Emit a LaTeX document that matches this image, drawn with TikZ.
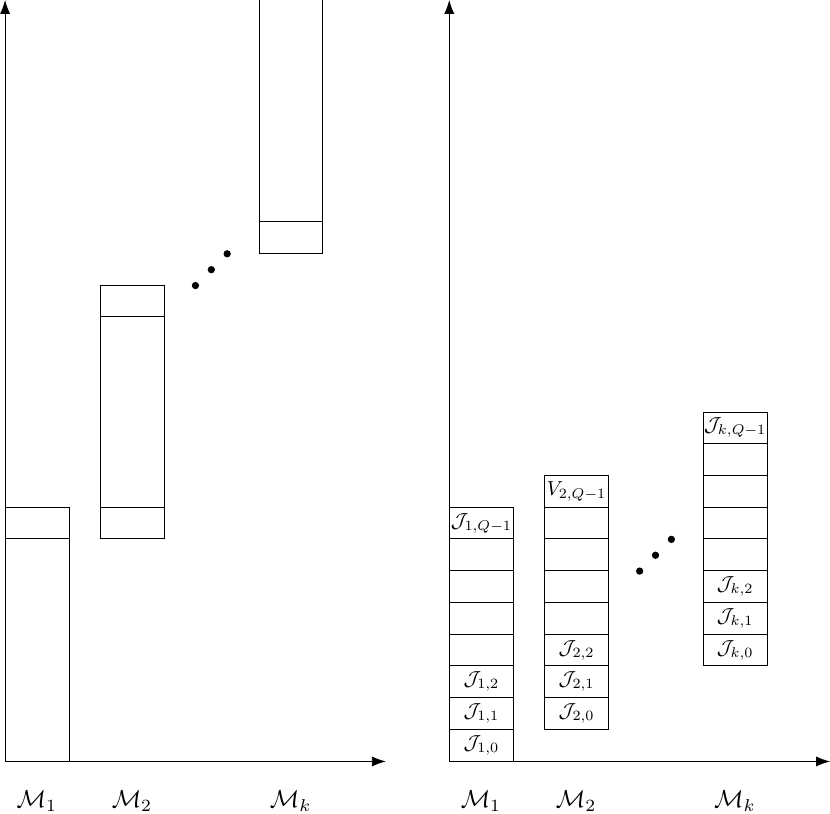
\documentclass[tikz,border=0pt]{standalone}
\usepackage{graphicx}
\usetikzlibrary{arrows.meta}
\newcommand{\celltxt}[1]{\makebox[0pt]{\scalebox{0.91}{$#1$}}}
\begin{document}
\begin{tikzpicture}[
  cellbox/.style={draw, minimum width=1cm, minimum height=0.5cm, inner sep=0pt, anchor=south west},
  tallbox/.style={draw, minimum width=1cm, minimum height=3.5cm, inner sep=0pt, anchor=south west},
  axis/.style={-{Latex[length=2.2mm,width=1.6mm]}},
  dot/.style={circle, fill, inner sep=0pt, minimum size=1.15mm},
  mlabel/.style={inner sep=0pt, scale=1.1, transform shape}
]
\useasboundingbox (-0.08,-0.82) rectangle (13.0,12.0);

% ---------- left panel ----------
\coordinate (LO) at (0,0);
\coordinate (LY) at (0,12);
\coordinate (LX) at (6,0);
\draw[axis] (LO) -- (LY);
\draw[axis] (LO) -- (LX);

% M1: tall part bottom, single cell top
\node[tallbox] (l1a) at (0,0) {};
\node[cellbox] (l1b) at (0,3.5) {};
% M2: cell, tall, cell
\node[cellbox] (l2a) at (1.5,3.5) {};
\node[tallbox, minimum height=3cm] (l2b) at (1.5,4) {};
\node[cellbox] (l2c) at (1.5,7) {};
% Mk: cell, tall
\node[cellbox] (lka) at (4,8) {};
\node[tallbox] (lkb) at (4,8.5) {};

\node[dot] (ld1) at (3.0,7.5) {};
\node[dot] (ld2) at (3.25,7.75) {};
\node[dot] (ld3) at (3.5,8.0) {};

\node[mlabel] (lm1) at (0.5,-0.62) {$\mathcal{M}_1$};
\node[mlabel] (lm2) at (2.0,-0.62) {$\mathcal{M}_2$};
\node[mlabel] (lmk) at (4.5,-0.62) {$\mathcal{M}_k$};

% ---------- right panel ----------
\coordinate (RO) at (7,0);
\coordinate (RY) at (7,12);
\coordinate (RX) at (13,0);
\draw[axis] (RO) -- (RY);
\draw[axis] (RO) -- (RX);

% M1 stack
\node[cellbox] (r10) at (7,0.0) {\celltxt{\mathcal{J}_{1,0}}};
\node[cellbox] (r11) at (7,0.5) {\celltxt{\mathcal{J}_{1,1}}};
\node[cellbox] (r12) at (7,1.0) {\celltxt{\mathcal{J}_{1,2}}};
\node[cellbox] (r13) at (7,1.5) {};
\node[cellbox] (r14) at (7,2.0) {};
\node[cellbox] (r15) at (7,2.5) {};
\node[cellbox] (r16) at (7,3.0) {};
\node[cellbox] (r17) at (7,3.5) {\celltxt{\mathcal{J}_{1,Q-1}}};

% M2 stack
\node[cellbox] (r20) at (8.5,0.5) {\celltxt{\mathcal{J}_{2,0}}};
\node[cellbox] (r21) at (8.5,1.0) {\celltxt{\mathcal{J}_{2,1}}};
\node[cellbox] (r22) at (8.5,1.5) {\celltxt{\mathcal{J}_{2,2}}};
\node[cellbox] (r23) at (8.5,2.0) {};
\node[cellbox] (r24) at (8.5,2.5) {};
\node[cellbox] (r25) at (8.5,3.0) {};
\node[cellbox] (r26) at (8.5,3.5) {};
\node[cellbox] (r27) at (8.5,4.0) {\celltxt{V_{2,Q-1}}};

% Mk stack
\node[cellbox] (rk0) at (11,1.5) {\celltxt{\mathcal{J}_{k,0}}};
\node[cellbox] (rk1) at (11,2.0) {\celltxt{\mathcal{J}_{k,1}}};
\node[cellbox] (rk2) at (11,2.5) {\celltxt{\mathcal{J}_{k,2}}};
\node[cellbox] (rk3) at (11,3.0) {};
\node[cellbox] (rk4) at (11,3.5) {};
\node[cellbox] (rk5) at (11,4.0) {};
\node[cellbox] (rk6) at (11,4.5) {};
\node[cellbox] (rk7) at (11,5.0) {\celltxt{\mathcal{J}_{k,Q-1}}};

\node[dot] (rd1) at (10.0,3.0) {};
\node[dot] (rd2) at (10.25,3.25) {};
\node[dot] (rd3) at (10.5,3.5) {};

\node[mlabel] (rm1) at (7.5,-0.62) {$\mathcal{M}_1$};
\node[mlabel] (rm2) at (9.0,-0.62) {$\mathcal{M}_2$};
\node[mlabel] (rmk) at (11.5,-0.62) {$\mathcal{M}_k$};
\end{tikzpicture}
\end{document}
